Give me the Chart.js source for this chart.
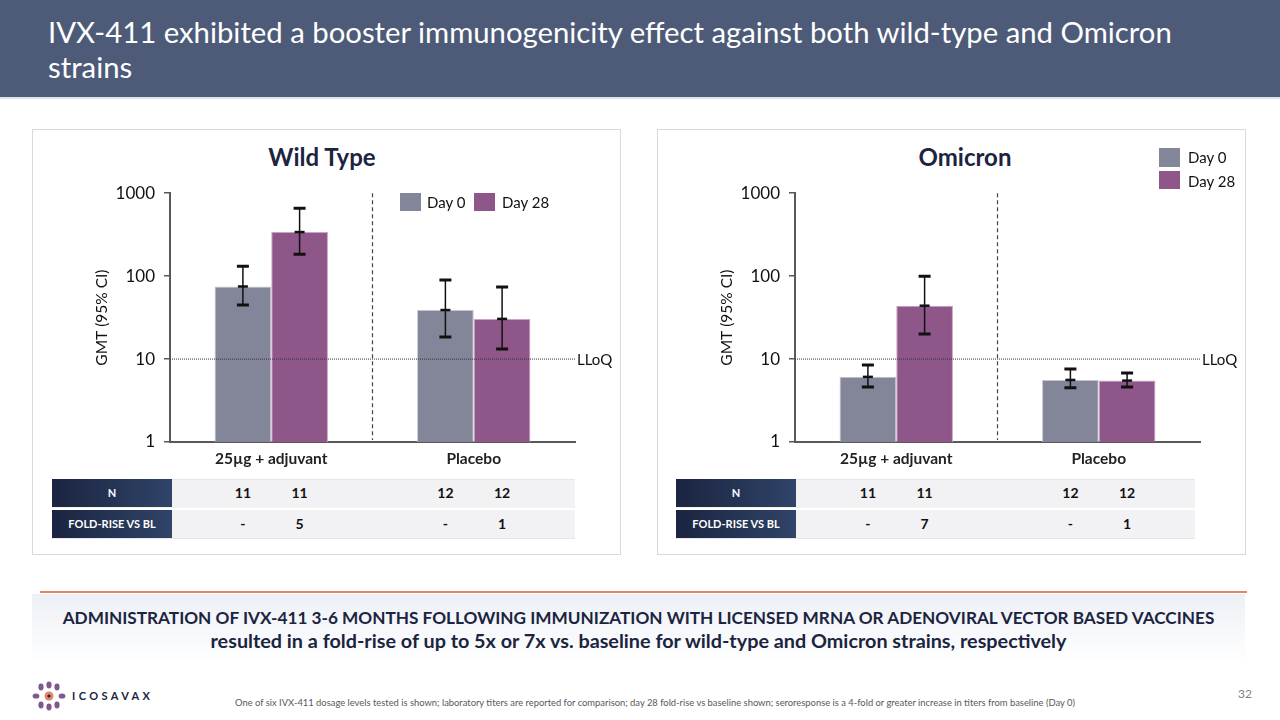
<!DOCTYPE html>
<html>
<head>
<meta charset="utf-8">
<script src="https://cdn.jsdelivr.net/npm/chart.js@4.4.1/dist/chart.umd.min.js"></script>
<style>
  body { margin: 0; width: 1280px; height: 720px; position: relative; overflow: hidden; background: #fff; font-family: Lato, "Open Sans", sans-serif; }
  .abs { position: absolute; }
  #header { left: 0; top: 0; width: 1280px; height: 97px; background: #4d5b78; border-bottom: 2px solid #dfe4ec; }
  #header h1 { margin: 0; position: absolute; left: 48px; top: 14px; width: 1180px; color: #fff; font-weight: 400; font-size: 29.3px; line-height: 35px; }
  .panel { top: 129px; width: 587px; height: 424px; border: 1.5px solid #d9d9d9; background: #fff; }
  .ctitle { top: 142px; font-size: 24px; font-weight: 700; color: #1b2440; transform: translateX(-50%); white-space: nowrap; }
  .sw { width: 21px; height: 18px; }
  .lg { font-size: 15px; color: #111; line-height: 18px; }
  .tbl { height: 58px; background: #f2f2f5; border-top: 1px solid #e6e6ea; border-bottom: 1px solid #e6e6ea; }
  .thd { width: 120px; height: 28px; background: linear-gradient(90deg, #1b2440, #2f4468); color: #fff; font-size: 11px; font-weight: 700; text-align: center; line-height: 28px; }
  .rowsep { height: 2px; background: #fff; }
  .val { font-size: 14px; font-weight: 700; color: #111; transform: translateX(-50%); line-height: 28px; }
  #rule { left: 40px; top: 591px; width: 1207px; height: 2px; background: #e4846a; }
  #concl { left: 32px; top: 594px; width: 1213px; height: 70px; background: linear-gradient(180deg, #edf0f6, #ffffff); text-align: center; color: #1b2440; font-weight: 700; line-height: 23px; }
  #foot { left: 235px; top: 697px; font-size: 9.4px; color: #595959; white-space: nowrap; }
  #page { left: 1238px; top: 686px; font-size: 12px; color: #7f7f7f; }
  #brand { left: 72px; top: 689px; font-size: 11px; font-weight: 700; letter-spacing: 3.4px; color: #1b2440; }
</style>
</head>
<body>
<div id="header" class="abs"><h1>IVX-411 exhibited a booster immunogenicity effect against both wild-type and Omicron strains</h1></div>

<div class="abs panel" style="left:32px"></div>
<div class="abs panel" style="left:657px"></div>

<div class="abs ctitle" style="left:322px">Wild Type</div>
<div class="abs ctitle" style="left:965px">Omicron</div>

<canvas id="wtChart" class="abs" width="540" height="299" style="left:85px; top:174px"></canvas>
<canvas id="omChart" class="abs" width="540" height="299" style="left:710px; top:174px"></canvas>

<!-- legends -->
<div class="abs sw" style="left:400px; top:193px; background:#838598"></div>
<div class="abs lg" style="left:427px; top:193px">Day 0</div>
<div class="abs sw" style="left:474px; top:193px; background:#8f5689"></div>
<div class="abs lg" style="left:502px; top:193px">Day 28</div>

<div class="abs sw" style="left:1159px; top:148px; height:19px; background:#838598"></div>
<div class="abs lg" style="left:1188px; top:148px">Day 0</div>
<div class="abs sw" style="left:1159px; top:171px; background:#8f5689"></div>
<div class="abs lg" style="left:1188px; top:172px">Day 28</div>

<!-- tables -->
<div class="abs tbl" style="left:52px; top:479px; width:523px"></div>
<div class="abs thd" style="left:52px; top:479px">N</div>
<div class="abs rowsep" style="left:52px; top:508px; width:523px"></div>
<div class="abs thd" style="left:52px; top:510px">FOLD-RISE VS BL</div>

<div class="abs tbl" style="left:676px; top:479px; width:519px"></div>
<div class="abs thd" style="left:676px; top:479px">N</div>
<div class="abs rowsep" style="left:676px; top:508px; width:519px"></div>
<div class="abs thd" style="left:676px; top:510px">FOLD-RISE VS BL</div>

<div id="rule" class="abs"></div>
<div id="concl" class="abs"><div style="padding-top:12px"><span style="font-size:17.2px">ADMINISTRATION OF IVX-411 3-6 MONTHS FOLLOWING IMMUNIZATION WITH LICENSED MRNA OR ADENOVIRAL VECTOR BASED VACCINES</span><br><span style="font-size:19.8px">resulted in a fold-rise of up to 5x or 7x vs. baseline for wild-type and Omicron strains, respectively</span></div></div>

<!-- logo -->
<svg class="abs" style="left:30px; top:681px" width="38" height="30" viewBox="0 0 38 30">
  <g fill="#7d5a8c">
    <ellipse cx="19" cy="4" rx="2.6" ry="3.4"/>
    <ellipse cx="11" cy="6" rx="2.6" ry="3.4"/>
    <ellipse cx="27" cy="6" rx="2.6" ry="3.4"/>
    <ellipse cx="6" cy="15" rx="3.4" ry="2.6"/>
    <ellipse cx="32" cy="15" rx="3.4" ry="2.6"/>
    <ellipse cx="11" cy="24" rx="2.6" ry="3.4"/>
    <ellipse cx="27" cy="24" rx="2.6" ry="3.4"/>
    <ellipse cx="19" cy="26" rx="2.6" ry="3.4"/>
  </g>
  <circle cx="19" cy="15" r="4.5" fill="#e4846a"/>
  <circle cx="19" cy="15" r="1.6" fill="#1b2440"/>
</svg>
<div id="brand" class="abs">ICOSAVAX</div>

<div id="foot" class="abs">One of six IVX-411 dosage levels tested is shown; laboratory titers are reported for comparison; day 28 fold-rise vs baseline shown; seroresponse is a 4-fold or greater increase in titers from baseline (Day 0)</div>
<div id="page" class="abs">32</div>

<script>
// categories and series
const groups = ['25µg + adjuvant', 'Placebo'];
const seriesNames = ['Day 0', 'Day 28'];
const yTicks = [1, 10, 100, 1000];
const lloq = 10;

// wild type GMT with 95% CI
const wtDay0 = [75, 39];
const wtDay0Low = [45, 18.5];
const wtDay0High = [132, 90];
const wtDay28 = [340, 30.5];
const wtDay28Low = [184, 13.2];
const wtDay28High = [660, 74];

// omicron GMT with 95% CI
const omDay0 = [6.1, 5.6];
const omDay0Low = [4.6, 4.5];
const omDay0High = [8.5, 7.6];
const omDay28 = [44, 5.5];
const omDay28Low = [20, 4.6];
const omDay28High = [100, 6.8];

// table rows (group 1 day 0, day 28, group 2 day 0, day 28)
const wtN = ['11', '11', '12', '12'];
const wtFold = ['-', '5', '-', '1'];
const omN = ['11', '11', '12', '12'];
const omFold = ['-', '7', '-', '1'];

const barColors = ['#838598', '#8f5689'];
const barEdges = ['#c3c4d0', '#c7a3c4'];

// barres d'erreur
const errorBars = {
  id: 'errorBars',
  afterDatasetsDraw(chart) {
    const ctx = chart.ctx;
    const y = chart.scales.y;
    chart.data.datasets.forEach((ds, i) => {
      chart.getDatasetMeta(i).data.forEach((bar, j) => {
        const hi = y.getPixelForValue(ds.high[j]);
        const lo = y.getPixelForValue(ds.low[j]);
        ctx.save();
        ctx.strokeStyle = '#111';
        ctx.lineWidth = 1.5;
        ctx.beginPath();
        ctx.moveTo(bar.x, hi);
        ctx.lineTo(bar.x, lo);
        ctx.stroke();
        ctx.lineWidth = 3;
        ctx.beginPath();
        ctx.moveTo(bar.x - 6, hi); ctx.lineTo(bar.x + 6, hi);
        ctx.moveTo(bar.x - 6, lo); ctx.lineTo(bar.x + 6, lo);
        ctx.stroke();
        ctx.lineWidth = 2.5;
        ctx.beginPath();
        ctx.moveTo(bar.x - 5, bar.y); ctx.lineTo(bar.x + 5, bar.y);
        ctx.stroke();
        ctx.restore();
      });
    });
  }
};

// séparateur et ligne LLoQ
const guides = {
  id: 'guides',
  afterDatasetsDraw(chart) {
    const ctx = chart.ctx;
    const area = chart.chartArea;
    const x = chart.scales.x;
    const y = chart.scales.y;
    const mid = (x.getPixelForValue(0) + x.getPixelForValue(1)) / 2;
    ctx.save();
    ctx.strokeStyle = '#444';
    ctx.lineWidth = 1.2;
    ctx.setLineDash([4, 3]);
    ctx.beginPath();
    ctx.moveTo(mid, area.top);
    ctx.lineTo(mid, area.bottom - 2);
    ctx.stroke();
    const ly = y.getPixelForValue(lloq);
    ctx.strokeStyle = '#333';
    ctx.lineWidth = 1;
    ctx.setLineDash([1, 1]);
    ctx.beginPath();
    ctx.moveTo(area.left, ly);
    ctx.lineTo(area.right, ly);
    ctx.stroke();
    ctx.setLineDash([]);
    ctx.fillStyle = '#111';
    ctx.font = '15px Lato';
    ctx.textBaseline = 'middle';
    ctx.fillText('LLoQ', area.right + 2, ly + 1);
    ctx.restore();
  }
};

function makeChart(id, vals, nRow, foldRow) {
  const canvas = document.getElementById(id);
  const chart = new Chart(canvas, {
    type: 'bar',
    data: {
      labels: groups,
      datasets: vals.map((v, i) => ({
        label: seriesNames[i],
        data: v.data,
        low: v.low,
        high: v.high,
        backgroundColor: barColors[i],
        borderColor: barEdges[i],
        borderWidth: 1,
        categoryPercentage: 0.56,
        barPercentage: 1
      }))
    },
    options: {
      responsive: false,
      animation: false,
      layout: { padding: { top: 0, right: 50, left: 0, bottom: 0 } },
      plugins: { legend: { display: false }, tooltip: { enabled: false } },
      scales: {
        x: {
          grid: { display: false },
          border: { color: '#595959', width: 2 },
          ticks: { color: '#222', font: { family: 'Lato', size: 15.5, weight: 'bold' }, padding: 0 },
          afterFit: s => { s.height = 31; }
        },
        y: {
          type: 'logarithmic',
          min: 1,
          max: 1000,
          afterBuildTicks: s => { s.ticks = yTicks.map(v => ({ value: v })); },
          ticks: { callback: v => String(v), color: '#111', font: { family: 'Lato', size: 17 }, padding: 9 },
          grid: { drawOnChartArea: false, color: '#595959', tickLength: 6, lineWidth: 1.5 },
          border: { color: '#595959', width: 2 },
          title: { display: true, text: 'GMT (95% CI)', color: '#111', font: { family: 'Lato', size: 15.5 }, padding: { top: 8, bottom: 0 } },
          afterFit: s => { s.width = 85; }
        }
      }
    },
    plugins: [errorBars, guides]
  });

  // valeurs du tableau alignées sur les barres
  [nRow, foldRow].forEach((row, r) => {
    row.forEach((txt, k) => {
      const bar = chart.getDatasetMeta(k % 2).data[Math.floor(k / 2)];
      const div = document.createElement('div');
      div.className = 'abs val';
      div.style.left = (canvas.offsetLeft + bar.x) + 'px';
      div.style.top = (r === 0 ? 479 : 510) + 'px';
      div.innerText = txt;
      document.body.appendChild(div);
    });
  });
  return chart;
}

makeChart('wtChart', [
  { data: wtDay0, low: wtDay0Low, high: wtDay0High },
  { data: wtDay28, low: wtDay28Low, high: wtDay28High }
], wtN, wtFold);

makeChart('omChart', [
  { data: omDay0, low: omDay0Low, high: omDay0High },
  { data: omDay28, low: omDay28Low, high: omDay28High }
], omN, omFold);
</script>
</body>
</html>
